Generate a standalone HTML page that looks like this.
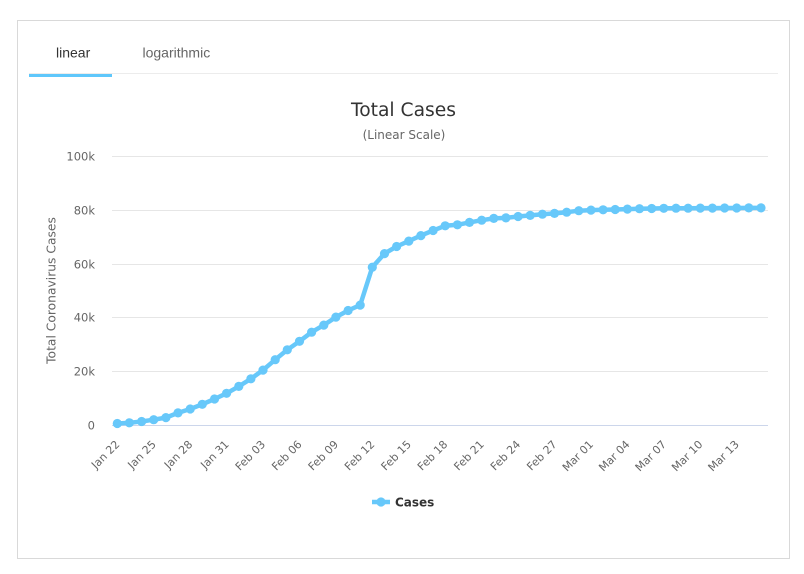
<!DOCTYPE html>
<html>
<head>
<meta charset="utf-8">
<style>
  html, body { margin:0; padding:0; background:#fff; }
  body { width:804px; height:574px; overflow:hidden; position:relative; }
  svg { position:absolute; left:0; top:0; }
</style>
</head>
<body>
<svg width="804" height="574" viewBox="0 0 804 574" xmlns="http://www.w3.org/2000/svg">
  <defs>
    <marker id="m" markerUnits="userSpaceOnUse" markerWidth="12" markerHeight="12" refX="6" refY="6">
      <circle cx="6" cy="6" r="4.6" fill="#67c8fa"/>
    </marker>
  </defs>
  <!-- panel -->
  <rect x="17.5" y="20.5" width="772" height="538" fill="#fff" stroke="#d9d9d9" stroke-width="1"/>

  <!-- tabs -->
  <line x1="29" y1="73.5" x2="778" y2="73.5" stroke="#ececec" stroke-width="1"/>
  <rect x="29" y="74" width="83" height="3" fill="#5fc7fb"/>
  <text x="56" y="57.5" font-family="'Liberation Sans', Arial, sans-serif" font-size="14" fill="#333">linear</text>
  <text x="142.5" y="57.5" font-family="'Liberation Sans', Arial, sans-serif" font-size="14" fill="#666">logarithmic</text>

  <!-- title -->
  <text x="403.5" y="116" text-anchor="middle" font-family="'DejaVu Sans', sans-serif" font-size="18.7" fill="#333">Total Cases</text>
  <text x="404" y="139" text-anchor="middle" font-family="'DejaVu Sans', sans-serif" font-size="12" fill="#666">(Linear Scale)</text>

  <!-- grid -->
  <g stroke="#e6e6e6" stroke-width="1">
    <line x1="112" y1="156.5" x2="768" y2="156.5"/>
    <line x1="112" y1="210.5" x2="768" y2="210.5"/>
    <line x1="112" y1="264.5" x2="768" y2="264.5"/>
    <line x1="112" y1="317.5" x2="768" y2="317.5"/>
    <line x1="112" y1="371.5" x2="768" y2="371.5"/>
  </g>
  <line x1="112" y1="425.5" x2="768" y2="425.5" stroke="#ccd6eb" stroke-width="1"/>

  <!-- y labels -->
  <g font-family="'DejaVu Sans', sans-serif" font-size="11.5" fill="#666" text-anchor="end">
    <text x="95" y="160.5">100k</text>
    <text x="95" y="214.5">80k</text>
    <text x="95" y="268.5">60k</text>
    <text x="95" y="321.5">40k</text>
    <text x="95" y="375.5">20k</text>
    <text x="95" y="429.5">0</text>
  </g>
  <text transform="translate(55.5,290.5) rotate(-90)" text-anchor="middle" font-family="'DejaVu Sans', sans-serif" font-size="12.3" fill="#666">Total Coronavirus Cases</text>

  <!-- x labels -->
  <g font-family="'DejaVu Sans', sans-serif" font-size="11" fill="#666" text-anchor="end">
    <text transform="translate(120.3,445) rotate(-45)">Jan 22</text>
    <text transform="translate(156.7,445) rotate(-45)">Jan 25</text>
    <text transform="translate(193.2,445) rotate(-45)">Jan 28</text>
    <text transform="translate(229.6,445) rotate(-45)">Jan 31</text>
    <text transform="translate(266.0,445) rotate(-45)">Feb 03</text>
    <text transform="translate(302.5,445) rotate(-45)">Feb 06</text>
    <text transform="translate(338.9,445) rotate(-45)">Feb 09</text>
    <text transform="translate(375.3,445) rotate(-45)">Feb 12</text>
    <text transform="translate(411.8,445) rotate(-45)">Feb 15</text>
    <text transform="translate(448.2,445) rotate(-45)">Feb 18</text>
    <text transform="translate(484.7,445) rotate(-45)">Feb 21</text>
    <text transform="translate(521.1,445) rotate(-45)">Feb 24</text>
    <text transform="translate(557.5,445) rotate(-45)">Feb 27</text>
    <text transform="translate(594.0,445) rotate(-45)">Mar 01</text>
    <text transform="translate(630.4,445) rotate(-45)">Mar 04</text>
    <text transform="translate(666.8,445) rotate(-45)">Mar 07</text>
    <text transform="translate(703.3,445) rotate(-45)">Mar 10</text>
    <text transform="translate(739.7,445) rotate(-45)">Mar 13</text>
  </g>

  <!-- series -->
  <polyline fill="none" stroke="#67c8fa" stroke-width="4.5" stroke-linejoin="round" stroke-linecap="round"
    marker-start="url(#m)" marker-mid="url(#m)" marker-end="url(#m)"
    points="117.3,423.5 129.4,422.8 141.6,421.5 153.7,419.7 165.9,417.6 178.0,412.9 190.2,409.0 202.3,404.3 214.5,399.0 226.6,393.3 238.8,386.4 250.9,378.8 263.0,370.1 275.2,359.7 287.3,349.8 299.5,341.3 311.6,332.2 323.8,325.1 335.9,317.1 348.1,310.5 360.2,305.1 372.3,267.2 384.5,253.6 396.6,246.5 408.8,241.1 420.9,235.6 433.1,230.5 445.2,225.8 457.4,224.8 469.5,222.4 481.7,220.2 493.8,218.4 505.9,217.9 518.1,216.5 530.2,215.4 542.4,214.2 554.5,213.4 566.7,212.2 578.8,210.7 591.0,210.1 603.1,209.8 615.2,209.5 627.4,209.1 639.5,208.7 651.7,208.5 663.8,208.3 676.0,208.2 688.1,208.2 700.3,208.1 712.4,208.1 724.6,208.0 736.7,208.0 748.8,207.9 761.0,207.9"/>

  <!-- legend -->
  <line x1="372" y1="502" x2="390" y2="502" stroke="#67c8fa" stroke-width="4.5"/>
  <circle cx="381" cy="502" r="4.6" fill="#67c8fa"/>
  <text x="395" y="506.5" font-family="'DejaVu Sans', sans-serif" font-size="12" font-weight="bold" fill="#333">Cases</text>
</svg>
</body>
</html>
